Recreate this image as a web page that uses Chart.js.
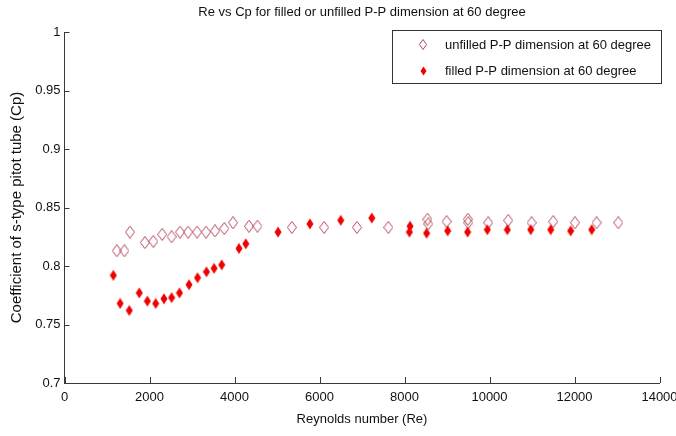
<!DOCTYPE html>
<html>
<head>
<meta charset="utf-8">
<script src="https://cdn.jsdelivr.net/npm/chart.js@4.4.1/dist/chart.umd.min.js"></script>
<style>
    html, body { margin: 0; padding: 0; background: #fff; }
    #wrap { width: 676px; height: 436px; }
</style>
</head>
<body>
<div id="wrap"><canvas id="cpChart" width="676" height="436"></canvas></div>
<script>
// data
const reUnfilled = [1230, 1410, 1540, 1890, 2090, 2300, 2520, 2720, 2910, 3120, 3330, 3540, 3760, 3965, 4340, 4540,
    5350, 6110, 6880, 7620, 8540, 8560, 8990, 9490, 9500, 9970, 10440, 10990, 11500, 12010, 12520, 13030];
const cpUnfilled = [0.813, 0.813, 0.829, 0.820, 0.821, 0.827, 0.825, 0.829, 0.829, 0.829, 0.829, 0.830, 0.832, 0.837, 0.834, 0.834,
    0.833, 0.833, 0.833, 0.833, 0.840, 0.836, 0.838, 0.840, 0.837, 0.837, 0.839, 0.837, 0.838, 0.837, 0.837, 0.837];

const reFilled = [1150, 1310, 1525, 1760, 1950, 2145, 2340, 2520, 2705, 2930, 3130, 3340, 3520, 3700, 4105, 4265,
    5025, 5775, 6500, 7230, 8130, 8115, 8520, 9015, 9485, 9950, 10420, 10970, 11440, 11910, 12405];
const cpFilled = [0.792, 0.768, 0.762, 0.777, 0.770, 0.768, 0.772, 0.773, 0.777, 0.784, 0.790, 0.795, 0.798, 0.801, 0.815, 0.819,
    0.829, 0.836, 0.839, 0.841, 0.834, 0.829, 0.828, 0.830, 0.829, 0.831, 0.831, 0.831, 0.831, 0.830, 0.831];

const seriesLabels = ['unfilled P-P dimension at 60 degree', 'filled P-P dimension at 60 degree'];
const chartTitle = 'Re vs Cp for filled or unfilled P-P dimension at 60 degree';
const xTitle = 'Reynolds number (Re)';
const yTitle = 'Coefficient of s-type pitot tube (Cp)';

const hollowColor = '#b5475a';
const filledColor = '#f00000';
const axisColor = '#3a3a3a';
const font = 'Liberation Sans, Arial, sans-serif';

// matlab style diamond markers (taller than wide)
function makeDiamond(w, h, color, filled) {
    const c = document.createElement('canvas');
    c.width = w;
    c.height = h;
    const g = c.getContext('2d');
    g.beginPath();
    g.moveTo(w / 2, 0.5);
    g.lineTo(w - 0.5, h / 2);
    g.lineTo(w / 2, h - 0.5);
    g.lineTo(0.5, h / 2);
    g.closePath();
    if (filled) {
        g.fillStyle = color;
        g.fill();
    } else {
        g.strokeStyle = color;
        g.lineWidth = 1;
        g.stroke();
    }
    return c;
}

const hollowMark = makeDiamond(10, 13, hollowColor, false);
const filledMark = makeDiamond(8, 12, filledColor, true);
// legend uses slightly smaller ones
const legendMarks = [makeDiamond(8, 11, hollowColor, false), makeDiamond(7, 10, filledColor, true)];

// inward ticks + legend box
const matlabAxes = {
    id: 'matlabAxes',
    afterDraw(chart) {
        const ctx = chart.ctx;
        const area = chart.chartArea;
        const xs = chart.scales.x;
        const ys = chart.scales.y;
        ctx.save();
        ctx.strokeStyle = axisColor;
        ctx.lineWidth = 1;
        ctx.beginPath();
        xs.ticks.forEach(t => {
            const px = Math.round(xs.getPixelForValue(t.value)) + 0.5;
            ctx.moveTo(px, area.bottom);
            ctx.lineTo(px, area.bottom - 6);
        });
        ys.ticks.forEach(t => {
            const py = Math.round(ys.getPixelForValue(t.value)) + 0.5;
            ctx.moveTo(area.left, py);
            ctx.lineTo(area.left + 5, py);
        });
        ctx.stroke();

        // legend
        const lx = 392.5, ly = 30.5, lw = 269, lh = 53;
        ctx.fillStyle = '#fff';
        ctx.fillRect(lx, ly, lw, lh);
        ctx.strokeStyle = '#333';
        ctx.strokeRect(lx, ly, lw, lh);
        const rows = [44, 70.5];
        ctx.font = '13px ' + font;
        ctx.fillStyle = '#111';
        ctx.textBaseline = 'middle';
        ctx.textAlign = 'left';
        chart.data.datasets.forEach((ds, i) => {
            const m = legendMarks[i];
            ctx.drawImage(m, Math.round(423 - m.width / 2), Math.round(rows[i] - m.height / 2));
            ctx.fillText(ds.label, 445, rows[i] + 1);
        });
        ctx.restore();
    }
};

const ctx = document.getElementById('cpChart').getContext('2d');
const cpChart = new Chart(ctx, {
    type: 'scatter',
    data: {
        datasets: [
            {
                label: seriesLabels[0],
                data: reUnfilled.map((re, i) => ({ x: re, y: cpUnfilled[i] })),
                pointStyle: hollowMark,
                pointRadius: 5,
                order: 1
            },
            {
                label: seriesLabels[1],
                data: reFilled.map((re, i) => ({ x: re, y: cpFilled[i] })),
                pointStyle: filledMark,
                pointRadius: 5,
                order: 0
            }
        ]
    },
    options: {
        responsive: false,
        animation: false,
        events: [],
        layout: {
            padding: { left: 8, right: 16.5, top: 0, bottom: 9 }
        },
        scales: {
            x: {
                type: 'linear',
                min: 0,
                max: 14000,
                grid: { display: false, drawTicks: false },
                border: { display: true, color: axisColor, width: 1 },
                ticks: {
                    stepSize: 2000,
                    padding: 7,
                    maxRotation: 0,
                    color: '#111',
                    font: { family: font, size: 13 },
                    callback: v => String(v)
                },
                title: {
                    display: true,
                    text: xTitle,
                    color: '#111',
                    padding: { top: 0, bottom: 0 },
                    font: { family: font, size: 13 }
                },
                afterFit(scale) {
                    scale.height = 44;
                    scale.paddingLeft = 0;
                    scale.paddingRight = 0;
                }
            },
            y: {
                min: 0.7,
                max: 1,
                grid: { display: false, drawTicks: false },
                border: { display: true, color: axisColor, width: 1 },
                ticks: {
                    stepSize: 0.05,
                    padding: 4,
                    color: '#111',
                    font: { family: font, size: 13 },
                    callback: v => String(+Number(v).toFixed(2))
                },
                title: {
                    display: true,
                    text: yTitle,
                    color: '#111',
                    padding: { top: 0, bottom: 0 },
                    font: { family: font, size: 15 }
                },
                afterFit(scale) {
                    scale.width = 56.5;
                    scale.paddingTop = 0;
                    scale.paddingBottom = 0;
                }
            }
        },
        plugins: {
            legend: { display: false },
            tooltip: { enabled: false },
            title: {
                display: true,
                text: chartTitle,
                fullSize: false,
                color: '#111',
                font: { family: font, size: 13, weight: 'normal' },
                padding: { top: 5, bottom: 11.4 }
            }
        }
    },
    plugins: [matlabAxes]
});
</script>
</body>
</html>
